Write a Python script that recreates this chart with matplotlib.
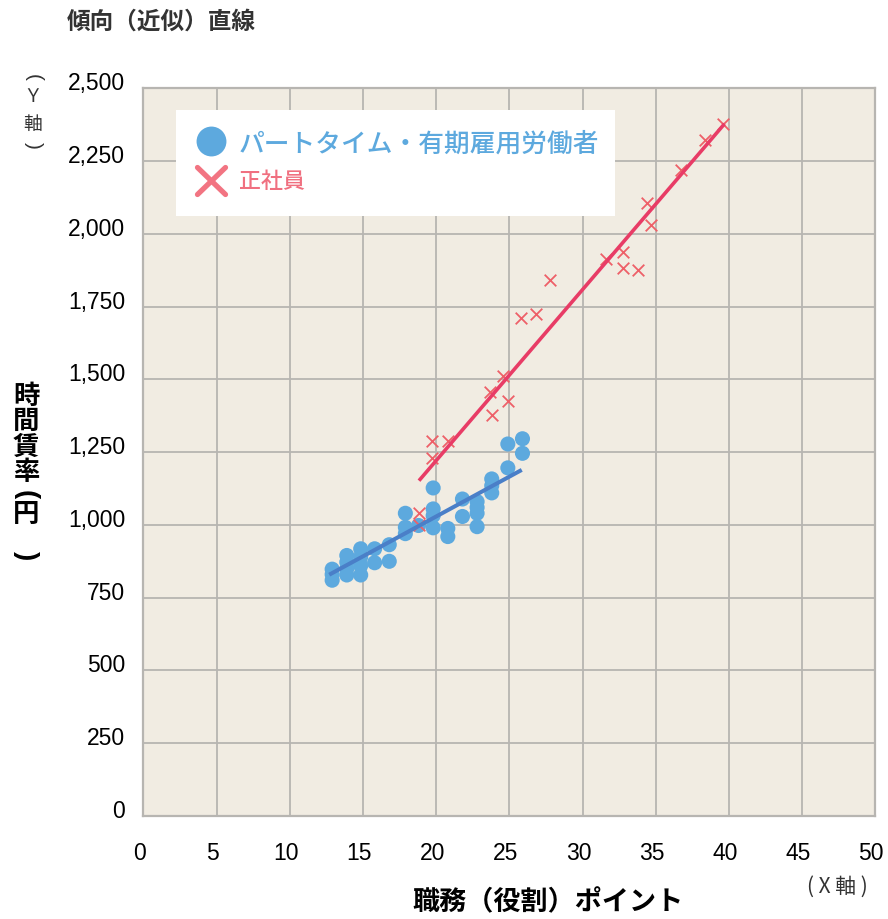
import matplotlib
matplotlib.use('Agg')
import matplotlib.pyplot as plt
import matplotlib.transforms as mtransforms
from matplotlib.lines import Line2D
from matplotlib.patches import Rectangle

plt.rcParams['font.family'] = ['Noto Sans CJK JP', 'DejaVu Sans']

# ---- data ----
part_x = [12.9, 12.9, 12.9,
          13.9, 13.9, 13.9, 13.9,
          14.85, 14.85, 14.85, 14.85,
          15.8, 15.8,
          16.8, 16.8,
          17.9, 17.9, 17.9,
          18.8,
          19.8, 19.8, 19.8, 19.8,
          20.8, 20.8,
          21.8, 21.8,
          22.8, 22.8, 22.8, 22.8,
          23.8, 23.8, 23.8,
          24.9, 24.9,
          25.9, 25.9]
part_y = [810, 830, 848,
          828, 850, 872, 895,
          828, 860, 890, 918,
          870, 918,
          875, 932,
          970, 992, 1040,
          998,
          990, 1032, 1055, 1127,
          960, 988,
          1029, 1089,
          994, 1040, 1060, 1080,
          1110, 1135, 1158,
          1196, 1278,
          1246, 1296]

reg_x = [39.6, 38.4, 36.7, 34.4, 34.7, 31.6, 32.8, 32.8, 33.8, 27.8, 26.8,
         25.8, 24.6, 23.7, 24.9, 23.8, 19.7, 20.8, 19.7, 18.8, 18.8]
reg_y = [2378, 2321, 2218, 2106, 2032, 1914, 1937, 1883, 1876, 1843, 1725,
         1711, 1510, 1456, 1427, 1376, 1288, 1288, 1230, 1041, 1001]

part_trend_x = [12.7, 25.85]
part_trend_y = [829, 1189]
reg_trend_x = [18.83, 39.7]
reg_trend_y = [1152, 2378]

x_ticks = [0, 5, 10, 15, 20, 25, 30, 35, 40, 45, 50]
x_tick_labels = ['0', '5', '10', '15', '20', '25', '30', '35', '40', '45', '50']
y_ticks = [0, 250, 500, 750, 1000, 1250, 1500, 1750, 2000, 2250, 2500]
y_tick_labels = ['0', '250', '500', '750', '1,000', '1,250', '1,500',
                 '1,750', '2,000', '2,250', '2,500']

title = '傾向（近似）直線'
y_label_chars = ['時', '間', '賃', '率', '(', '円', ')']
y_note_chars = ['(', 'Ｙ', '軸', ')']
x_label = '職務（役割）ポイント'
x_axis_note = '( X 軸 )'
legend_part = 'パートタイム・有期雇用労働者'
legend_reg = '正社員'

# ---- styles ----
W, H = 888, 920
BLUE = '#5da9de'
BLUE_LINE = '#4a7fc8'
RED = '#ee6068'
RED_LINE = '#e83c66'
BG = '#f1ece2'
GRID = '#b7b5b1'
NUM_FONT = ['Liberation Sans', 'DejaVu Sans']

fig = plt.figure(figsize=(W / 100, H / 100), dpi=100)
fig.patch.set_facecolor('white')


def fx(x):
    return x / W


def fy(y):
    return 1 - y / H


left, right, top, bottom = 143.3, 875.3, 89.3, 817
ax = fig.add_axes([fx(left), fy(bottom), (right - left) / W, (bottom - top) / H])
ax.set_facecolor(BG)
ax.set_xlim(0, 50)
ax.set_ylim(0, 2500)
ax.set_xticks(x_ticks)
ax.set_xticklabels(x_tick_labels, fontfamily=NUM_FONT, fontsize=16.5)
ax.set_yticks(y_ticks)
ax.set_yticklabels(y_tick_labels, fontfamily=NUM_FONT, fontsize=16.5)
ax.tick_params(axis='both', length=0, colors='black')
ax.tick_params(axis='y', pad=13)
ax.tick_params(axis='x', pad=18)
ax.grid(True, color=GRID, linewidth=1.3, zorder=0)
ax.set_axisbelow(True)
for s in ax.spines.values():
    s.set_color(GRID)
    s.set_linewidth(1.6)

# shift tick labels like the reference
off_y = mtransforms.ScaledTranslation(0, 8 / 100, fig.dpi_scale_trans)
for t in ax.yaxis.get_major_ticks():
    t.label1.set_transform(t.label1.get_transform() + off_y)
off_x = mtransforms.ScaledTranslation(-4 / 100, 0, fig.dpi_scale_trans)
for t in ax.xaxis.get_major_ticks():
    t.label1.set_transform(t.label1.get_transform() + off_x)

ax.scatter(part_x, part_y, s=118, color=BLUE, edgecolors='none', zorder=3, clip_on=False)
ax.scatter(reg_x, reg_y, s=70, marker='x', color=RED, linewidths=1.3, zorder=4, clip_on=False)
ax.plot(part_trend_x, part_trend_y, color=BLUE_LINE, linewidth=2.9, zorder=5,
        solid_capstyle='butt')
ax.plot(reg_trend_x, reg_trend_y, color=RED_LINE, linewidth=2.6, zorder=5,
        solid_capstyle='butt')

# ---- legend box ----
fig.add_artist(Rectangle((fx(176), fy(216.5)), (615 - 176) / W, (216.5 - 111) / H,
                         transform=fig.transFigure, facecolor='white',
                         edgecolor='none', zorder=10))
fig.add_artist(Line2D([fx(210.7)], [fy(142.3)], transform=fig.transFigure,
                      marker='o', markersize=21.5, color=BLUE, markeredgewidth=0,
                      linestyle='none', zorder=11))
for (x0, y0, x1, y1) in [(197.5, 168.5, 225.5, 195.5), (225.5, 168.5, 197.5, 195.5)]:
    fig.add_artist(Line2D([fx(x0), fx(x1)], [fy(y0), fy(y1)], transform=fig.transFigure,
                          color='#f27482', linewidth=3.8, solid_capstyle='round',
                          zorder=11))
fig.text(fx(239), fy(144), legend_part, fontsize=18.5, color=BLUE, ha='left',
         va='center', zorder=12, weight='medium')
fig.text(fx(239), fy(182), legend_reg, fontsize=15.8, color='#f07080', ha='left',
         va='center', zorder=12, weight='medium')

# ---- titles / labels ----
fig.text(fx(67), fy(22), title, fontsize=17, weight='bold', color='#333333',
         ha='left', va='center')


def vertical_text(chars, centers, x, size, weight, color, paren_size):
    for ch, yc in zip(chars, centers):
        if ch in '()':
            fig.text(fx(x), fy(yc), ch, fontsize=paren_size, weight=weight,
                     color=color, ha='center', va='center', rotation=-90,
                     family=NUM_FONT)
        else:
            fig.text(fx(x), fy(yc), ch, fontsize=size, weight=weight,
                     color=color, ha='center', va='center')


# small vertical "(Y軸)" note
vertical_text(y_note_chars, [78, 96, 124, 145], 33, 13.5, 'normal', '#333333', 15)
# vertical y-axis label
vertical_text(y_label_chars, [396, 421, 447, 473, 495, 515, 556], 26, 19, 'bold',
              'black', 20)

fig.text(fx(548), fy(902), x_label, fontsize=19.5, weight='bold', color='black',
         ha='center', va='center')
fig.text(fx(837), fy(887), x_axis_note, fontsize=15, color='#333333',
         ha='center', va='center')

fig.savefig('out.png', dpi=100, facecolor='white')
